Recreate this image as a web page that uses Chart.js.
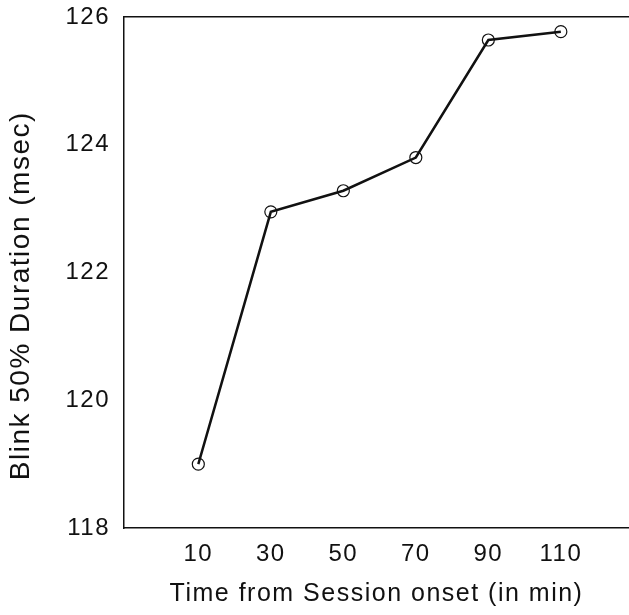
<!DOCTYPE html>
<html>
<head>
<meta charset="utf-8">
<script src="https://cdn.jsdelivr.net/npm/chart.js@4/dist/chart.umd.min.js"></script>
<style>
  html, body { margin: 0; padding: 0; background: #fff; }
  #wrap { width: 629px; height: 615px; }
</style>
</head>
<body>
<div id="wrap"><canvas id="c" width="629" height="615"></canvas></div>
<script>
// Session time points (minutes) and mean blink 50% duration (msec)
const sessionMinutes = [10, 30, 50, 70, 90, 110];
const blinkDuration = [119.0, 122.95, 123.28, 123.80, 125.64, 125.77];
const durationTicks = [118, 120, 122, 124, 126];

const ink = '#111';
const fontFamily = '"Liberation Sans", Arial, Helvetica, sans-serif';

// Slightly wider letter spacing for all canvas text
const spacing = {
  id: 'spacing',
  beforeDraw(chart) { chart.ctx.letterSpacing = '1.5px'; }
};

new Chart(document.getElementById('c'), {
  type: 'line',
  data: {
    datasets: [{
      data: sessionMinutes.map((t, i) => ({ x: t, y: blinkDuration[i] })),
      borderColor: ink,
      borderWidth: 2.5,
      tension: 0,
      fill: false,
      pointStyle: 'circle',
      pointRadius: 6,
      pointBorderWidth: 1.2,
      pointBorderColor: ink,
      pointBackgroundColor: 'rgba(0,0,0,0)'
    }]
  },
  plugins: [spacing],
  options: {
    responsive: false,
    animation: false,
    layout: { autoPadding: false, padding: { top: 17, right: 0, bottom: 0, left: 0 } },
    plugins: { legend: { display: false }, tooltip: { enabled: false } },
    scales: {
      x: {
        type: 'linear',
        position: 'bottom',
        min: -10.5,
        max: 128.8,
        afterBuildTicks: s => { s.ticks = sessionMinutes.map(v => ({ value: v })); },
        afterFit: s => { s.height = 87; s.paddingLeft = 0; s.paddingRight = 0; },
        grid: { display: false, drawTicks: false },
        border: { display: true, color: ink, width: 1.5 },
        ticks: {
          padding: 12,
          color: ink,
          font: { family: fontFamily, size: 24 },
          maxRotation: 0,
          autoSkip: false
        },
        title: {
          display: true,
          text: 'Time from Session onset (in min)',
          color: ink,
          font: { family: fontFamily, size: 25 },
          padding: { top: 0, bottom: 6 }
        }
      },
      xTop: {
        type: 'linear',
        position: 'top',
        min: -10.5,
        max: 128.8,
        afterFit: s => { s.height = 0; s.paddingLeft = 0; s.paddingRight = 0; },
        grid: { display: false, drawTicks: false },
        border: { display: true, color: ink, width: 1.5 },
        ticks: { display: false }
      },
      y: {
        type: 'linear',
        min: 118,
        max: 126,
        afterBuildTicks: s => { s.ticks = durationTicks.map(v => ({ value: v })); },
        afterFit: s => { s.width = 124; s.paddingTop = 0; s.paddingBottom = 0; },
        grid: { display: false, drawTicks: false },
        border: { display: true, color: ink, width: 1.5 },
        ticks: {
          padding: 14,
          color: ink,
          font: { family: fontFamily, size: 24 }
        },
        title: {
          display: true,
          // trailing spaces nudge the rotated label slightly toward the bottom
          text: 'Blink 50% Duration (msec)     ',
          color: ink,
          font: { family: fontFamily, size: 28 },
          padding: { top: 4, bottom: 0 }
        }
      }
    }
  }
});
</script>
</body>
</html>
